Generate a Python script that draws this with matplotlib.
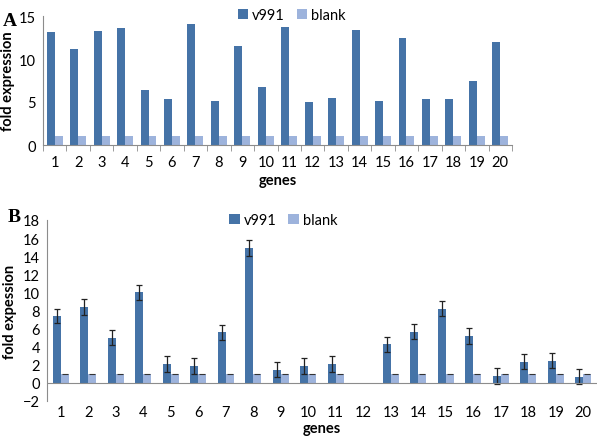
import numpy as np
import matplotlib.pyplot as plt

plt.rcParams['font.family'] = ['Lato', 'DejaVu Sans']

genes = [str(i) for i in range(1, 21)]

# panel A
a_v991 = [13.1, 11.2, 13.2, 13.6, 6.4, 5.4, 14.1, 5.1, 11.5, 6.7,
          13.7, 5.0, 5.5, 13.4, 5.1, 12.4, 5.3, 5.4, 7.5, 12.0]
a_blank = [1] * 20

# panel B (gene 12 has no data)
b_v991 = [7.4, 8.4, 5.0, 10.0, 2.1, 1.85, 5.6, 14.9, 1.45, 1.85,
          2.1, 0, 4.25, 5.65, 8.2, 5.2, 0.75, 2.35, 2.45, 0.7]
b_err = [0.8, 0.85, 0.85, 0.85, 0.85, 0.85, 0.85, 0.85, 0.85, 0.85,
         0.85, 0, 0.85, 0.85, 0.85, 0.85, 0.9, 0.85, 0.85, 0.85]
b_blank = [1] * 11 + [0] + [1] * 8

c_dark = '#4573a7'
c_light = '#9db3dc'
grey = '#8c8c8c'
fs = 10.5

fig = plt.figure(figsize=(6, 4.39), dpi=100)
x = np.arange(len(genes))

# ---- A
ax1 = fig.add_axes([43/600, 1-146/439, (512-43)/600, (146-17)/439])
w = 0.34
ax1.bar(x - w/2, a_v991, w, color=c_dark, label='v991')
ax1.bar(x + w/2, a_blank, w, color=c_light, label='blank')
ax1.set_xlim(-0.5, 19.5)
ax1.set_ylim(0, 15)
ax1.set_yticks([0, 5, 10, 15])
ax1.set_xticks(x)
ax1.set_xticklabels(genes)
ax1.set_xticks(np.arange(-0.5, 20, 1), minor=True)
ax1.tick_params(axis='x', which='major', length=0, pad=7, labelsize=fs)
ax1.tick_params(axis='x', which='minor', length=4, color=grey)
ax1.tick_params(axis='y', length=0, labelsize=fs, pad=5)
for s in ['top', 'right']:
    ax1.spines[s].set_visible(False)
for s in ['left', 'bottom']:
    ax1.spines[s].set_color(grey)
ax1.set_ylabel('fold expression', fontweight='bold', fontsize=fs, labelpad=3)
ax1.set_xlabel('genes', fontweight='bold', fontsize=fs, labelpad=3)
ax1.legend(loc='upper center', bbox_to_anchor=(0.53, 1.16), ncol=2, frameon=False,
           fontsize=fs, handlelength=0.7, handleheight=0.7, handletextpad=0.3,
           columnspacing=0.8)
fig.text(0.004, 0.952, 'A', fontsize=14, fontweight='bold', family='Liberation Serif', va='center')

# ---- B
ax2 = fig.add_axes([47/600, 1-402/439, (597-47)/600, (402-221)/439])
w2 = 0.29
ax2.bar(x - w2/2, b_v991, w2, color=c_dark, label='v991')
ax2.bar(x + w2/2, b_blank, w2, color=c_light, label='blank')
has = np.array(b_err) > 0
ax2.errorbar((x - w2/2)[has], np.array(b_v991)[has], yerr=np.array(b_err)[has],
             fmt='none', ecolor='#222222', elinewidth=0.9, capsize=2.5, capthick=0.9)
bl = np.array(b_blank)
ax2.hlines(bl[bl > 0], (x + w2/2 - w2/2.5)[bl > 0], (x + w2/2 + w2/2.5)[bl > 0],
           color='#333333', lw=0.8)
ax2.axhline(0, color=grey, lw=0.8)
ax2.set_xlim(-0.5, 19.5)
ax2.set_ylim(-2, 18)
ax2.set_yticks(range(-2, 19, 2))
ax2.set_xticks(x)
ax2.set_xticklabels(genes)
ax2.tick_params(axis='x', length=0, pad=3, labelsize=fs)
ax2.tick_params(axis='y', length=0, labelsize=fs, pad=5)
for s in ['top', 'right', 'bottom']:
    ax2.spines[s].set_visible(False)
ax2.spines['left'].set_color(grey)
ax2.set_ylabel('fold expession', fontweight='bold', fontsize=fs, labelpad=4)
ax2.set_xlabel('genes', fontweight='bold', fontsize=fs, labelpad=1)
ax2.legend(loc='upper center', bbox_to_anchor=(0.43, 1.11), ncol=2, frameon=False,
           fontsize=fs, handlelength=0.7, handleheight=0.7, handletextpad=0.3,
           columnspacing=0.8)
fig.text(0.012, 0.505, 'B', fontsize=14, fontweight='bold', family='Liberation Serif', va='center')

fig.savefig('out.png', dpi=100)
